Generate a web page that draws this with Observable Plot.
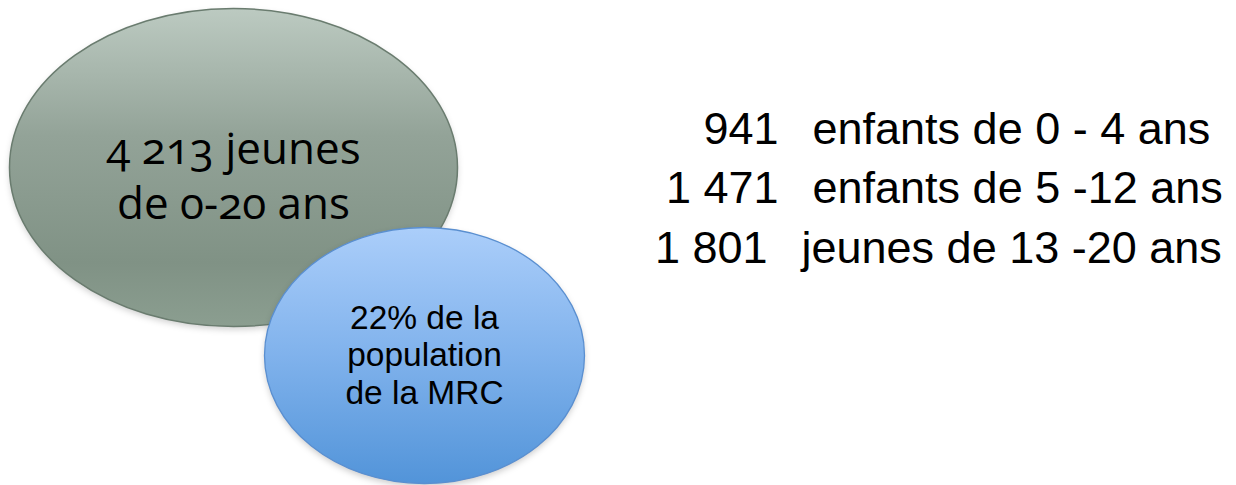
<!DOCTYPE html>
<html><head><meta charset="utf-8">
<script src="https://cdn.jsdelivr.net/npm/d3@7"></script>
<script src="https://cdn.jsdelivr.net/npm/@observablehq/plot@0.6"></script>
<style>
html,body{margin:0;padding:0;background:#fff;}
#chart svg{display:block;}
</style></head><body><div id="chart"></div>
<script>
// ---- data ----
const totalYouth = 4213;
const totalLabel = ["jeunes", "de 0-20 ans"];
const sharePct = 22;
const shareLines = ["de la", "population", "de la MRC"];
const ageGroups = ["enfants de 0 - 4 ans", "enfants de 5 -12 ans", "jeunes de 13 -20 ans"];
const groupCounts = [941, 1471, 1801];

// ---- layout ----
const W = 1236, H = 485;
const bigE = {cx: 233, cy: 167, rx: 224, ry: 159};
const smallE = {cx: 424, cy: 355, rx: 160, ry: 128};
const rightFs = 45, rightBase0 = 143, rightGap = 59.5, numEndX = 778, labelStartX = 812;
const rowShift = [0, 0, -11];
const bigFs = 44, bigBase0 = 163, bigGap = 55;
const smallFs = 33.5, smallBase0 = 328, smallGap = 37.5;

const fr = d3.formatLocale({decimal: ",", thousands: " ", grouping: [3], currency: ["", " $"]});
const fmt = fr.format(",d");

function ellipseSymbol(aspect) {
  return {
    draw(ctx, size) {
      const r = Math.sqrt(size / Math.PI), rx = r * aspect, ry = r, k = 0.5522847;
      ctx.moveTo(rx, 0);
      ctx.bezierCurveTo(rx, ry * k, rx * k, ry, 0, ry);
      ctx.bezierCurveTo(-rx * k, ry, -rx, ry * k, -rx, 0);
      ctx.bezierCurveTo(-rx, -ry * k, -rx * k, -ry, 0, -ry);
      ctx.bezierCurveTo(rx * k, -ry, rx, -ry * k, rx, 0);
      ctx.closePath();
    }
  };
}

function defsMark() {
  const defs = d3.create("svg:defs");
  const g1 = defs.append("linearGradient").attr("id", "grayGrad").attr("x1", 0).attr("y1", 0).attr("x2", 0).attr("y2", 1);
  [[0, "#bccac1"], [0.4, "#93a398"], [0.8, "#809285"], [1, "#8b9e90"]].forEach(([o, c]) =>
    g1.append("stop").attr("offset", o).attr("stop-color", c));
  const g2 = defs.append("linearGradient").attr("id", "blueGrad").attr("x1", 0).attr("y1", 0).attr("x2", 0).attr("y2", 1);
  [[0, "#abcefa"], [0.5, "#80b2ec"], [1, "#5294d9"]].forEach(([o, c]) =>
    g2.append("stop").attr("offset", o).attr("stop-color", c));
  return defs.node();
}

const toMid = (base, fs) => base - 0.32 * fs;

const chart = Plot.plot({
  width: W, height: H, margin: 0,
  x: {type: "linear", domain: [0, W], range: [0, W], axis: null},
  y: {type: "linear", domain: [0, H], range: [0, H], axis: null},
  marks: [
    defsMark,
    Plot.dot([bigE], {x: "cx", y: "cy", dy: 3, r: bigE.ry, symbol: ellipseSymbol(bigE.rx / bigE.ry), fill: "#000", fillOpacity: 0.18, imageFilter: "blur(3px)"}),
    Plot.dot([bigE], {x: "cx", y: "cy", r: bigE.ry, symbol: ellipseSymbol(bigE.rx / bigE.ry), fill: "url(#grayGrad)", stroke: "#6a7c6f", strokeWidth: 1.5}),
    Plot.dot([smallE], {x: "cx", y: "cy", dy: 3, r: smallE.ry, symbol: ellipseSymbol(smallE.rx / smallE.ry), fill: "#000", fillOpacity: 0.2, imageFilter: "blur(3px)"}),
    Plot.dot([smallE], {x: "cx", y: "cy", r: smallE.ry, symbol: ellipseSymbol(smallE.rx / smallE.ry), fill: "url(#blueGrad)", stroke: "#5a8fd0", strokeWidth: 1.3}),
    Plot.text([`${fmt(totalYouth)} ${totalLabel[0]}`, totalLabel[1]], {
      x: () => bigE.cx, y: (d, i) => toMid(bigBase0 + i * bigGap, bigFs), text: d => d,
      fontFamily: "Open Sans", fontSize: bigFs, fill: "#000", fontVariant: "oldstyle-nums"
    }),
    Plot.text([`${sharePct}% ${shareLines[0]}`, shareLines[1], shareLines[2]], {
      x: () => smallE.cx, y: (d, i) => toMid(smallBase0 + i * smallGap, smallFs), text: d => d,
      fontFamily: "Liberation Sans", fontSize: smallFs, fill: "#000"
    }),
    Plot.text(groupCounts, {
      x: (d, i) => numEndX + rowShift[i], y: (d, i) => toMid(rightBase0 + i * rightGap, rightFs), text: d => fmt(d),
      textAnchor: "end", fontFamily: "Liberation Sans", fontSize: rightFs, fill: "#000"
    }),
    Plot.text(ageGroups, {
      x: (d, i) => labelStartX + rowShift[i], y: (d, i) => toMid(rightBase0 + i * rightGap, rightFs), text: d => d,
      textAnchor: "start", fontFamily: "Liberation Sans", fontSize: rightFs, fill: "#000"
    })
  ]
});
document.getElementById("chart").appendChild(chart);
</script></body></html>
